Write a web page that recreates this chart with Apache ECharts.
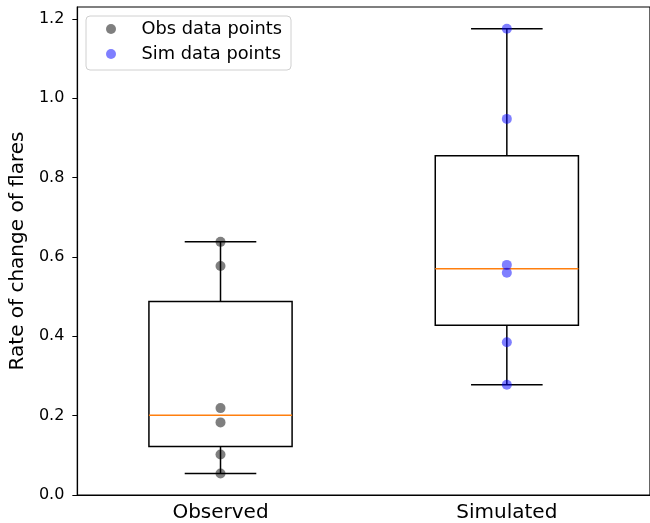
<!DOCTYPE html>
<html>
<head>
<meta charset="utf-8">
<script src="https://cdn.jsdelivr.net/npm/echarts@6/dist/echarts.min.js"></script>
<style>html,body{margin:0;padding:0;background:#fff;}#c{width:650px;height:523px;}</style>
</head>
<body>
<div id="c"></div>
<script>
const categories = ['Observed', 'Simulated'];
const obsPoints = [0.054, 0.102, 0.183, 0.219, 0.577, 0.638];
const simPoints = [0.278, 0.385, 0.560, 0.580, 0.948, 1.175];
// box stats: [lower whisker, Q1, median, Q3, upper whisker]
const obsBox = [0.054, 0.122, 0.201, 0.488, 0.638];
const simBox = [0.278, 0.428, 0.570, 0.855, 1.175];
const yTicks = [0, 0.2, 0.4, 0.6, 0.8, 1.0, 1.2];

const FONT = 'DejaVu Sans';
const chart = echarts.init(document.getElementById('c'), null, {renderer: 'canvas'});

function renderBox(params, api) {
  const x = api.value(0);
  const vals = [api.value(1), api.value(2), api.value(3), api.value(4), api.value(5)];
  const band = api.size([1, 0])[0];
  const bw = band * 0.5;
  const cap = bw * 0.5;
  const c = api.coord([x, vals[2]])[0];
  const y = vals.map(v => api.coord([x, v])[1]);
  const ls = {stroke: '#000', lineWidth: 1.5, fill: null};
  return {
    type: 'group',
    children: [
      {type: 'line', shape: {x1: c, y1: y[0], x2: c, y2: y[1]}, style: ls},
      {type: 'line', shape: {x1: c, y1: y[3], x2: c, y2: y[4]}, style: ls},
      {type: 'line', shape: {x1: c - cap / 2, y1: y[0], x2: c + cap / 2, y2: y[0]}, style: ls},
      {type: 'line', shape: {x1: c - cap / 2, y1: y[4], x2: c + cap / 2, y2: y[4]}, style: ls},
      {type: 'rect', shape: {x: c - bw / 2, y: y[3], width: bw, height: y[1] - y[3]}, style: {stroke: '#000', lineWidth: 1.5, fill: 'none'}},
      {type: 'line', shape: {x1: c - bw / 2, y1: y[2], x2: c + bw / 2, y2: y[2]}, style: {stroke: '#ff7f0e', lineWidth: 1.5}}
    ]
  };
}

const option = {
  animation: false,
  backgroundColor: '#fff',
  grid: {left: 77, top: 7, right: -2, bottom: 27.7, show: true, borderColor: '#000', borderWidth: 1.2, backgroundColor: 'transparent'},
  legend: {
    left: 86, top: 16, orient: 'vertical',
    data: ['Obs data points', 'Sim data points'],
    itemWidth: 25, itemHeight: 10, itemGap: 7,
    padding: [4, 9, 7, 20],
    borderColor: '#d0d0d0', borderWidth: 1, borderRadius: 4,
    backgroundColor: 'rgba(255,255,255,0.8)',
    textStyle: {fontFamily: FONT, fontSize: 17.8, color: '#000', padding: [0, 0, 0, 13]}
  },
  xAxis: {
    type: 'category', data: categories, boundaryGap: true,
    axisLine: {lineStyle: {color: '#000', width: 1.2}},
    axisTick: {alignWithLabel: true, length: 5, lineStyle: {color: '#000', width: 1}},
    axisLabel: {fontFamily: FONT, fontSize: 20, color: '#000', margin: 8},
    splitLine: {show: false}
  },
  yAxis: {
    type: 'value', min: 0, max: 1.23,
    name: 'Rate of change of flares', nameLocation: 'middle', nameGap: 46,
    nameTextStyle: {fontFamily: FONT, fontSize: 20, color: '#000'},
    axisLine: {show: true, lineStyle: {color: '#000', width: 1.2}},
    axisTick: {show: true, length: 5, customValues: yTicks, lineStyle: {color: '#000', width: 1}},
    axisLabel: {fontFamily: FONT, fontSize: 16, color: '#000', margin: 13, customValues: yTicks, formatter: v => v.toFixed(1)},
    splitLine: {show: false}
  },
  series: [
    {
      type: 'custom', name: 'box', renderItem: renderBox, z: 2,
      encode: {x: 0, y: [1, 2, 3, 4, 5]},
      data: [[0].concat(obsBox), [1].concat(simBox)]
    },
    {
      type: 'scatter', name: 'Obs data points', symbol: 'circle', symbolSize: 10, z: 3,
      itemStyle: {color: 'rgba(0,0,0,0.5)', opacity: 1},
      data: obsPoints.map(v => [0, v])
    },
    {
      type: 'scatter', name: 'Sim data points', symbol: 'circle', symbolSize: 10, z: 3,
      itemStyle: {color: 'rgba(0,0,255,0.5)', opacity: 1},
      data: simPoints.map(v => [1, v])
    }
  ]
};
chart.setOption(option);
</script>
</body>
</html>
